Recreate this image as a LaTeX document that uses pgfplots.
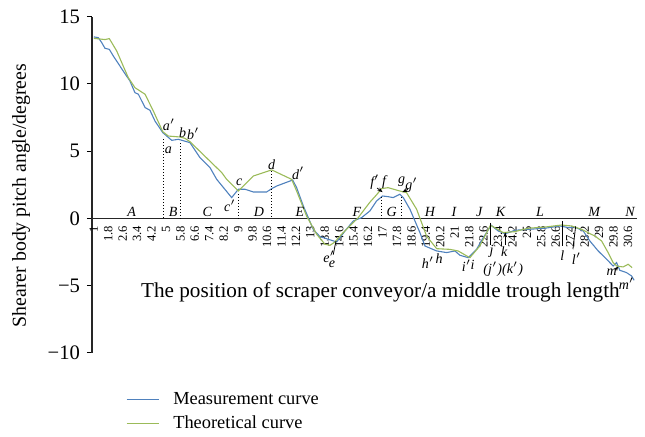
\documentclass[border=0pt]{standalone}
\usepackage{fontspec}
\setmainfont{Liberation Serif}
\usepackage{pgfplots}
\pgfplotsset{compat=1.18}
\usetikzlibrary{arrows.meta}
\definecolor{meas}{RGB}{79,129,189}
\definecolor{theo}{RGB}{155,187,89}
\begin{document}
\begin{tikzpicture}
\begin{axis}[
  scale only axis, width=272.5pt, height=168pt,
  xmin=0.9, xmax=31.1, ymin=-10, ymax=15,
  axis x line=middle, axis y line=left,
  every inner x axis line/.append style={-},
  every outer y axis line/.append style={-},
  every outer x axis line/.append style={-},
  axis line style={line width=0.6pt, black!85},
  clip=false,
  ytick={-10,-5,0,5,10,15},
  yticklabels={−10,−5,0,5,10,15},
  ytick align=outside,
  y tick label style={font=\fontsize{10.3}{12}\selectfont},
  major tick length=2.5pt,
  minor tick length=2.2pt,
  xtick={1,1.8,2.6,3.4,4.2,5,5.8,6.6,7.4,8.2,9,9.8,10.6,11.4,12.2,13,13.8,14.6,15.4,16.2,17,17.8,18.6,19.4,20.2,21,21.8,22.6,23.4,24.2,25,25.8,26.6,27.4,28.2,29,29.8,30.6},
  xticklabels={1,1.8,2.6,3.4,4.2,5,5.8,6.6,7.4,8.2,9,9.8,10.6,11.4,12.2,13,13.8,14.6,15.4,16.2,17,17.8,18.6,19.4,20.2,21,21.8,22.6,23.4,24.2,25,25.8,26.6,27.4,28.2,29,29.8,30.6},
  x tick label style={rotate=90, anchor=east, font=\fontsize{6.3}{7}\selectfont, inner sep=1pt},
  x tick style={draw=none},
  minor xtick={0.9,1.1,...,31.15},
  xtick align=outside,
  minor x tick style={line width=0.4pt, black},
  y tick style={line width=0.5pt, black},
  legend style={draw=none, fill=none, at={(axis description cs:0.051,-0.093)}, anchor=north west,
     font=\fontsize{9.2}{11}\selectfont, row sep=0pt, cells={anchor=west}},
  legend cell align=left,
  legend image code/.code={\draw[#1] (0pt,0pt) -- (16pt,0pt); \path (21pt,0pt);},
]
\addplot[meas, line width=0.55pt] coordinates {
(1.0,13.5) (1.25,13.44) (1.44,13.07) (1.62,12.65) (1.86,12.57) (2.08,12.08)
(2.63,10.96) (3.0,10.22) (3.28,9.35) (3.47,9.23) (3.84,8.24) (4.11,8.04)
(4.39,7.24) (4.82,6.38) (5.32,5.8) (5.68,5.88) (6.15,5.7) (6.33,5.63)
(6.88,4.52) (7.44,3.77) (7.81,2.9) (8.64,1.54) (9.01,2.16) (9.38,2.16)
(9.84,1.96) (10.58,1.96) (10.86,2.21) (11.13,2.4) (12.02,2.85) (12.24,2.28)
(12.61,0.92) (13.16,-0.82) (13.53,-1.36) (13.99,-1.56) (14.46,-1.76) (14.92,-0.94)
(15.38,-0.2) (15.84,0.05) (16.3,0.55) (16.67,1.29) (17.0,1.66) (17.31,1.61)
(17.59,1.54) (17.96,1.79) (18.15,1.54) (18.52,0.67) (19.07,-1.06) (19.35,-2.06)
(20.0,-2.43) (20.55,-2.55) (21.01,-2.43) (21.29,-2.75) (21.75,-2.93) (22.21,-2.31)
(22.58,-1.44) (23.02,-0.52) (23.41,-0.94) (23.8,-1.15) (24.34,-0.89) (25.07,-0.82)
(26.0,-0.74) (26.83,-0.57) (27.29,-0.69) (27.66,-0.65) (28.12,-0.94) (28.49,-1.69)
(28.95,-2.43) (29.42,-3.05) (29.78,-3.55) (29.97,-3.3) (30.15,-3.87) (30.52,-4.04)
(30.8,-4.29) (30.94,-4.61)
};
\addlegendentry{Measurement curve}
\addplot[theo, line width=0.55pt] coordinates {
(1.0,13.39) (1.62,13.3) (1.86,13.37) (2.27,12.45) (2.63,11.33) (2.91,10.47)
(3.28,9.72) (3.84,9.23) (4.3,7.98) (4.82,6.45) (5.13,6.12) (5.78,6.05)
(6.05,5.95) (6.33,5.7) (8.09,3.4) (8.36,2.9) (8.92,2.16) (9.01,2.03)
(9.84,3.15) (10.86,3.6) (11.96,2.9) (12.24,2.03) (12.79,0.17) (13.35,-1.19)
(13.81,-1.93) (14.09,-2.01) (14.36,-1.76) (14.73,-1.19) (15.19,-0.57) (15.65,0.05)
(16.3,1.2) (16.67,1.75) (16.95,2.21) (17.31,2.28) (17.96,2.03) (18.33,1.91)
(18.89,0.67) (19.44,-1.32) (20.0,-2.26) (20.73,-2.31) (21.19,-2.43) (21.84,-2.93)
(22.39,-2.06) (22.98,-0.52) (23.32,-0.77) (23.68,-1.06) (24.3,-1.0) (25.07,-0.74)
(26.0,-0.65) (26.92,-0.5) (27.47,-0.57) (28.03,-0.82) (28.49,-1.14) (28.77,-1.32)
(29.14,-1.69) (29.5,-2.55) (29.78,-3.3) (29.97,-3.55) (30.33,-3.62) (30.61,-3.42)
(30.83,-3.67)
};
\addlegendentry{Theoretical curve}
% annotations
\begin{scope}[densely dotted, line width=0.5pt, black]
\draw (axis cs:4.85,5.9) -- (axis cs:4.85,0);
\draw (axis cs:5.81,5.6) -- (axis cs:5.81,0);
\draw (axis cs:9.0,1.8) -- (axis cs:9.0,0);
\draw (axis cs:10.86,3.5) -- (axis cs:10.86,0);
\draw (axis cs:16.97,1.6) -- (axis cs:16.97,0);
\draw (axis cs:18.06,1.6) -- (axis cs:18.06,0);
\end{scope}
\begin{scope}[line width=0.4pt, black]
\draw (axis cs:14.42,-1.69) -- (axis cs:14.27,-2.7);
\draw (axis cs:22.99,-0.32) -- (axis cs:22.99,-2.0);
\draw[-{Stealth[length=2.5pt,width=2pt]}] (axis cs:23.8,-2.0) -- (axis cs:23.8,-1.05);
\draw (axis cs:26.95,-0.22) -- (axis cs:26.95,-2.06);
\draw (axis cs:27.7,-0.6) -- (axis cs:27.55,-2.3);
\draw[-{Stealth[length=2.5pt,width=2pt]}] (axis cs:16.7,2.25) -- (axis cs:17.0,1.95);
\draw[-{Stealth[length=2.5pt,width=2pt]}] (axis cs:18.4,2.15) -- (axis cs:18.1,1.95);
\draw[-{Stealth[length=2pt,width=1.8pt]}] (axis cs:29.9,-3.85) -- (axis cs:30.05,-3.6);
\end{scope}
\begin{scope}[font=\fontsize{7}{8}\selectfont\itshape, inner sep=0pt]
\node at (axis cs:3.1,0.5) {A};
\node at (axis cs:5.4,0.5) {B};
\node at (axis cs:7.29,0.5) {C};
\node at (axis cs:10.15,0.5) {D};
\node at (axis cs:12.42,0.5) {E};
\node at (axis cs:15.58,0.5) {F};
\node at (axis cs:17.5,0.5) {G};
\node at (axis cs:19.63,0.5) {H};
\node at (axis cs:20.96,0.5) {I};
\node at (axis cs:22.36,0.5) {J};
\node at (axis cs:23.54,0.5) {K};
\node at (axis cs:25.72,0.5) {L};
\node at (axis cs:28.73,0.5) {M};
\node at (axis cs:30.71,0.5) {N};
\end{scope}
\begin{scope}[font=\fontsize{7}{8}\selectfont\itshape, inner sep=0pt]
\node at (axis cs:5.17,6.99) {a$'$};
\node at (axis cs:5.13,5.06) {a};
\node at (axis cs:5.92,6.38) {b};
\node at (axis cs:6.51,6.30) {b$'$};
\node at (axis cs:9.06,2.66) {c};
\node at (axis cs:8.55,0.92) {c$'$};
\node at (axis cs:10.86,4.02) {d};
\node at (axis cs:12.33,3.35) {d$'$};
\node at (axis cs:14.05,-2.85) {e$'$};
\node at (axis cs:14.2,-3.45) {e};
\node at (axis cs:16.58,2.66) {f$'$};
\node at (axis cs:17.08,2.66) {f};
\node at (axis cs:18.06,2.70) {g};
\node at (axis cs:18.61,2.46) {g$'$};
\node at (axis cs:19.53,-3.30) {h$'$};
\node at (axis cs:20.14,-3.0) {h};
\node at (axis cs:21.66,-3.55) {i$'$};
\node at (axis cs:21.99,-3.5) {i};
\node at (axis cs:23.04,-2.43) {j};
\node at (axis cs:23.75,-2.5) {k};
\node at (axis cs:23.69,-3.8) {(j$'$)(k$'$)};
\node at (axis cs:26.96,-2.75) {l};
\node at (axis cs:27.75,-3.0) {l$'$};
\node at (axis cs:29.7,-4.0) {m};
\node at (axis cs:30.52,-4.9) {m$'$};
\end{scope}
\node[font=\fontsize{10.6}{12}\selectfont] at (axis cs:16.88,-5.5) {The position of scraper conveyor/a middle trough length};
\node[font=\fontsize{9.9}{12}\selectfont, rotate=90] at (axis cs:-3.03,1.7) {Shearer body pitch angle/degrees};
\coordinate (SW) at (rel axis cs:0,0);
\end{axis}
\pgfresetboundingbox
\useasboundingbox ([xshift=-46pt,yshift=176.35pt]SW) rectangle ([xshift=276.5pt,yshift=-41.65pt]SW);
\end{tikzpicture}
\end{document}
